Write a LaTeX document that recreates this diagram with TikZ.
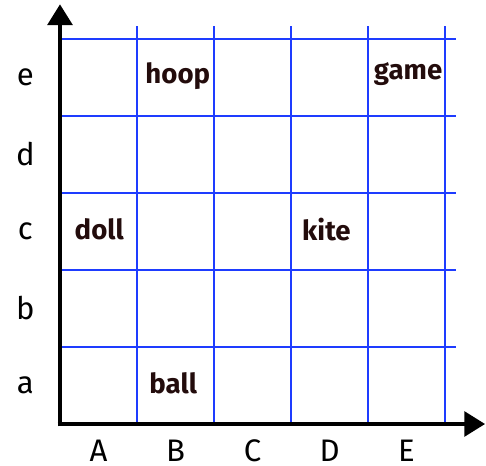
\documentclass[tikz,border=0pt]{standalone}
\usepackage{fontspec}
\setmainfont{Fira Sans}
\usetikzlibrary{arrows.meta}
\definecolor{gridblue}{RGB}{30,60,255}
\definecolor{toyink}{RGB}{35,12,12}

\begin{document}
\begin{tikzpicture}[every node/.style={font=\fontsize{11.5}{13}\selectfont}, >={Triangle[length=0.27cm, width=0.32cm]},
	toy/.style={text=toyink, font=\bfseries\fontsize{10.2}{12}\selectfont}]
	\useasboundingbox (-0.779,-0.545) rectangle (5.532,5.506);
	% grid
	\foreach \i in {1,...,5} {
		\draw[gridblue, line width=0.75pt] (\i,0) -- (\i,5.17);
		\draw[gridblue, line width=0.75pt] (0,\i) -- (5.14,\i);
	}
	% axes
	\draw[->, line width=1.5pt] (0,-0.03) -- (0,5.45);
	\draw[->, line width=1.5pt] (-0.03,0) -- (5.52,0);
	\foreach \c [count=\n] in {A,B,C,D,E}
		\node[inner sep=1pt] (col\c) at (\n-0.5,-0.35) {\c};
	\foreach \r [count=\n] in {a,b,c,d,e}
		\node (row\r) at (-0.45,\n-0.5) {\r};
	% toys
	\node[toy] (hoop) at (1.53,4.52) {hoop};
	\node[toy] (game) at (4.52,4.55) {game};
	\node[toy] (doll) at (0.51,2.53) {doll};
	\node[toy] (kite) at (3.46,2.53) {kite};
	\node[toy] (ball) at (1.47,0.53) {ball};
\end{tikzpicture}
\end{document}
